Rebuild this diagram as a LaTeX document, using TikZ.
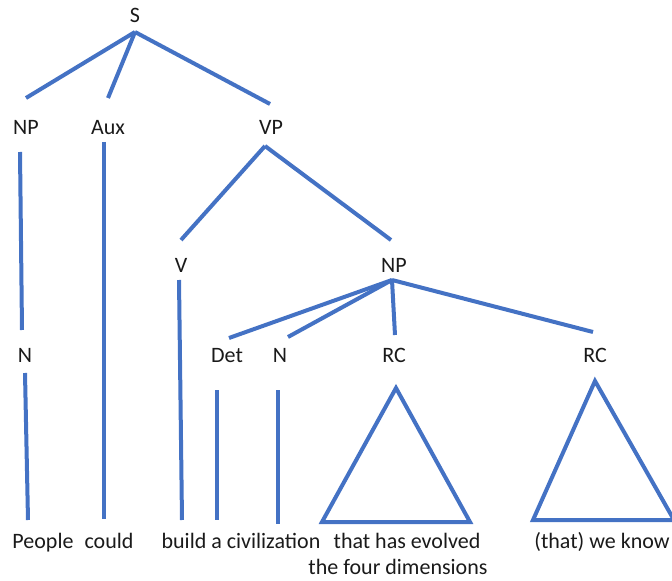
\documentclass[tikz,border=0pt]{standalone}
\usepackage{fontspec}
\setmainfont{Carlito}
\definecolor{treeblue}{HTML}{4472C4}
\definecolor{txt}{HTML}{1A1A1A}
\begin{document}
\begin{tikzpicture}[x=0.75pt,y=-0.75pt,
  lbl/.style={anchor=base,inner sep=0pt,font=\fontsize{16.5pt}{19pt}\selectfont,text=txt},
  word/.style={lbl},
  br/.style={draw=treeblue,line width=3pt,line cap=butt},
  tri/.style={draw=treeblue,line width=3pt,line join=miter}]
\useasboundingbox (0,0) rectangle (672,581);
% labels
\node[lbl] (S) at (135,23) {S};
\node[lbl] (NP1) at (26,135) {NP};
\node[lbl] (Aux) at (108,135) {Aux};
\node[lbl] (VP) at (271,135) {VP};
\node[lbl] (N1) at (25,363) {N};
\node[lbl] (V) at (181,273) {V};
\node[lbl] (NP2) at (394,273) {NP};
\node[lbl] (Det) at (227,363) {Det};
\node[lbl] (N2) at (280,363) {N};
\node[lbl] (RC1) at (394,363) {RC};
\node[lbl] (RC2) at (595,363) {RC};
% words
\node[word] (w1) at (43,548) {People};
\node[word] (w2) at (109,548) {could};
\node[word] (w3) at (241,548) {build a civilization};
\node[word] (w4) at (407,548) {that has evolved};
\node[word] (w5) at (398,574) {the four dimensions};
\node[word] (w6) at (602,548) {(that) we know};
% connector end points
\coordinate (S-b) at (135,32);
\coordinate (NP1-t) at (26,98);
\coordinate (Aux-t) at (108,98);
\coordinate (VP-t) at (270,104);
\coordinate (NP1-b) at (20,152);
\coordinate (N1-t) at (22,330);
\coordinate (N1-b) at (25,373);
\coordinate (w1-t) at (28,520);
\coordinate (Aux-b) at (104,142);
\coordinate (w2-t) at (104,519);
\coordinate (VP-b) at (265,146);
\coordinate (V-t) at (181,240);
\coordinate (NP2-t) at (391,240);
\coordinate (V-b) at (179,280);
\coordinate (w3v-t) at (182,520);
\coordinate (NP2-b) at (392,280);
\coordinate (Det-t) at (229,338);
\coordinate (N2-t) at (288,337);
\coordinate (RC1-t) at (395,335);
\coordinate (RC2-t) at (593,332);
\coordinate (Det-b) at (217,390);
\coordinate (w3d-t) at (217,520);
\coordinate (N2-b) at (278,390);
\coordinate (w3n-t) at (278,524);
% branches
\draw[br] (S-b) -- (NP1-t);
\draw[br] (S-b) -- (Aux-t);
\draw[br] (S-b) -- (VP-t);
\draw[br] (NP1-b) -- (N1-t);
\draw[br] (N1-b) -- (w1-t);
\draw[br] (Aux-b) -- (w2-t);
\draw[br] (VP-b) -- (V-t);
\draw[br] (VP-b) -- (NP2-t);
\draw[br] (V-b) -- (w3v-t);
\draw[br] (NP2-b) -- (Det-t);
\draw[br] (NP2-b) -- (N2-t);
\draw[br] (NP2-b) -- (RC1-t);
\draw[br] (NP2-b) -- (RC2-t);
\draw[br] (Det-b) -- (w3d-t);
\draw[br] (N2-b) -- (w3n-t);
% triangles
\draw[tri] (396,388) -- (470,522) -- (322,522) -- cycle;
\draw[tri] (595,381) -- (674,520) -- (533,520) -- cycle;
\end{tikzpicture}
\end{document}
